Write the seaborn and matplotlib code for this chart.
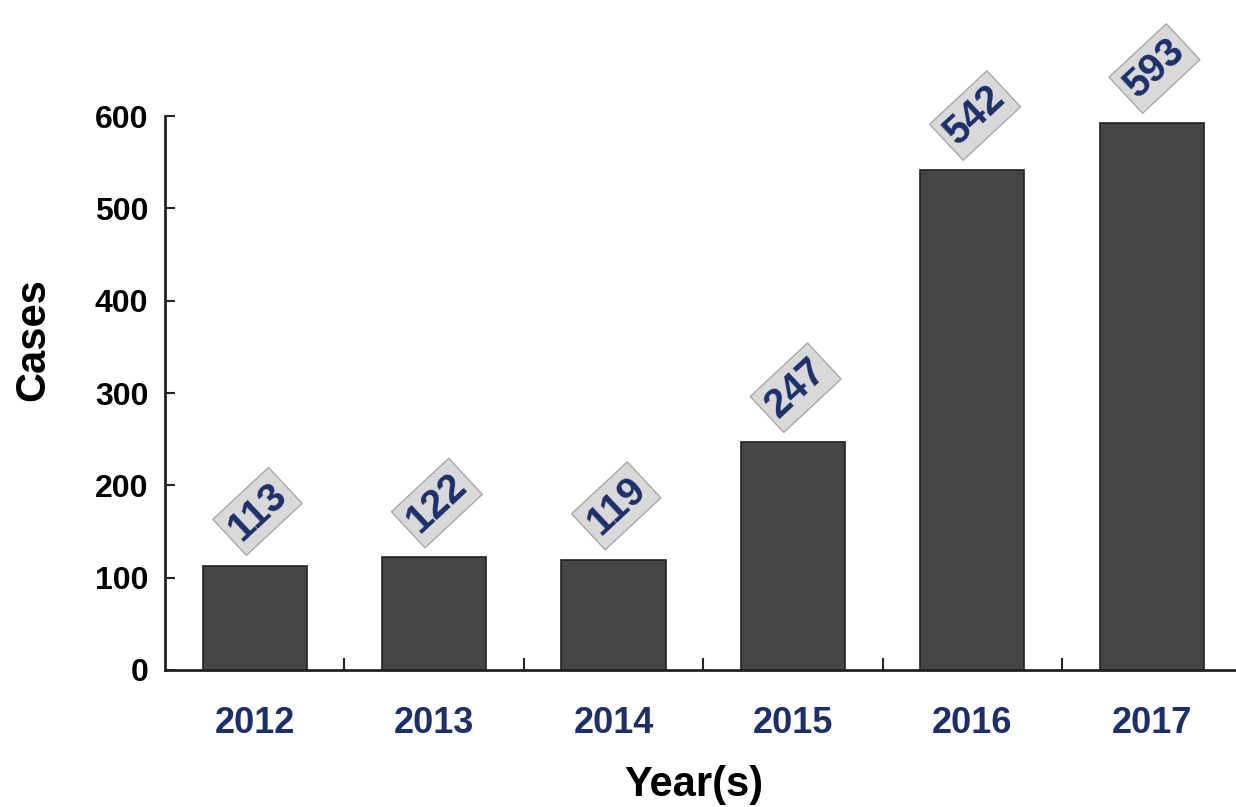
import numpy as np
import pandas as pd
import matplotlib
matplotlib.use("Agg")
import matplotlib.pyplot as plt
import seaborn as sns

# data
years = ['2012', '2013', '2014', '2015', '2016', '2017']
cases = [113, 122, 119, 247, 542, 593]

navy = '#1b2f6b'
sns.set_style('white')
plt.rcParams['font.family'] = ['Liberation Sans', 'DejaVu Sans']

df = pd.DataFrame({'year': years, 'cases': cases})

fig = plt.figure(figsize=(12.36, 8.07), dpi=100)
ax = fig.add_axes([0.1335, 0.170, 0.8665, 0.686])

sns.barplot(data=df, x='year', y='cases', color='#454545', edgecolor='#222222',
            linewidth=1.2, width=0.58, saturation=1, ax=ax)

# rotated value labels in grey boxes
for i, v in enumerate(cases):
    ax.annotate(str(v), xy=(i, v), xytext=(2, 39), textcoords='offset points',
                ha='center', va='center', rotation=43, fontsize=29,
                fontweight='bold', color=navy, annotation_clip=False,
                bbox=dict(boxstyle='square,pad=0.14', facecolor='#d9d9d9',
                          edgecolor='#a8a8a8', linewidth=1))

ax.set_ylim(0, 600)
ax.set_xlim(-0.5, 5.47)
ax.set_yticks(np.arange(0, 601, 100))
ax.tick_params(axis='y', direction='in', length=7, width=1.5, labelsize=23,
               pad=12, left=True, labelcolor='black')
for t in ax.get_yticklabels():
    t.set_fontweight('bold')

ax.set_xticks(range(len(years)))
ax.set_xticklabels(years, fontsize=26, fontweight='bold', color=navy)
ax.tick_params(axis='x', length=0, pad=26)
ax.set_xticks(np.arange(0.5, 5.5, 1), minor=True)
ax.tick_params(axis='x', which='minor', direction='in', length=9, width=1.5,
               bottom=True)

ax.set_xlabel('Year(s)', fontsize=30, fontweight='bold', color='black')
ax.set_ylabel('Cases', fontsize=30, fontweight='bold', color='black')
ax.xaxis.set_label_coords(0.494, -0.208)
ax.yaxis.set_label_coords(-0.123, 0.596)
ax.xaxis.label.set_va('center')
ax.yaxis.label.set_va('center')

sns.despine(ax=ax)
for s in ['left', 'bottom']:
    ax.spines[s].set_linewidth(2)
    ax.spines[s].set_color('#222222')

fig.savefig('out.png', dpi=100)
